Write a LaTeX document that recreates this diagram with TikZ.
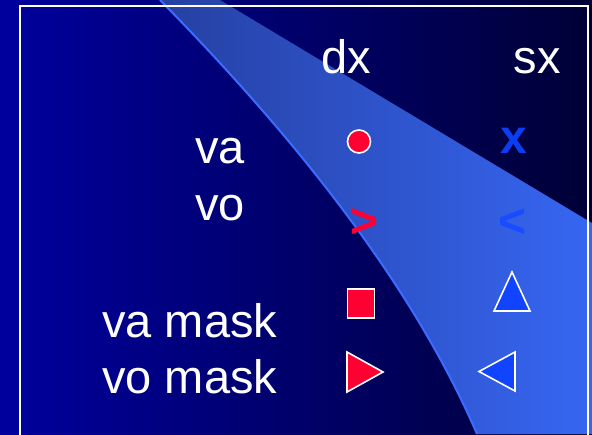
\documentclass[tikz,border=0pt]{standalone}
\usepackage{fontspec}
\setmainfont{Liberation Sans}
\definecolor{bgL}{HTML}{00009E}
\definecolor{bgR}{HTML}{000036}
\definecolor{bandL}{HTML}{2640A2}
\definecolor{bandR}{HTML}{3666F2}
\definecolor{edgeblue}{HTML}{3A6CFF}
\definecolor{mred}{HTML}{FF0033}
\definecolor{mblue}{HTML}{1144FF}
\definecolor{gblue}{HTML}{0D3DF0}
\definecolor{ltblue}{HTML}{1A4CFF}
\begin{document}
\begin{tikzpicture}[x=1pt,y=-1pt,
  lbl/.style={text=white,font=\fontsize{47}{50}\selectfont,inner sep=0pt,anchor=base west},
  glyph/.style={font=\bfseries\fontsize{48}{50}\selectfont,inner sep=0pt,anchor=base west},
  mk/.style={draw=white,line width=1.6pt,line join=miter}]
\useasboundingbox (0,0) rectangle (592,434);
\clip (0,0) rectangle (592,434);
% background
\shade[left color=bgL,right color=bgR] (0,0) rectangle (592,434);
% light band
\shade[left color=bandL,right color=bandR]
  (160,0) .. controls (302.2,144.7) and (414.3,289.3) .. (477,434)
  -- (592,434) -- (592,223) -- (220,0) -- cycle;
\draw[edgeblue,line width=2pt]
  (160,0) .. controls (302.2,144.7) and (414.3,289.3) .. (477,434);
% frame
\draw[white,line width=2.5pt] (20,440) -- (20,6) -- (588,6) -- (588,440);
% labels
\node[lbl] (dx) at (321.5,73) {dx};
\node[lbl] (sx) at (513.5,73) {sx};
\node[lbl] (va) at (195,163) {va};
\node[lbl] (vo) at (195,220) {vo};
\node[lbl] (vam) at (102,337) {va mask};
\node[lbl] (vom) at (102,393) {vo mask};
% markers
\node[circle,fill=mred,mk,minimum size=23pt,inner sep=0pt] (dot) at (359,141.5) {};
\node[glyph,text=gblue] (x) at (500.5,153) {x};
\node[glyph,text=mred] (gt) at (350.5,237) {>};
\node[glyph,text=ltblue] (lt) at (498.6,237) {<};
\node[rectangle,fill=mred,mk,minimum width=27pt,minimum height=29.5pt,inner sep=0pt] (sq) at (361,303.5) {};
\filldraw[fill=mblue,mk] (512,272) -- (530,311) -- (494,311) -- cycle;
\filldraw[fill=mred,mk] (347,352) -- (383,372) -- (347,392) -- cycle;
\filldraw[fill=mblue,mk] (515,352) -- (479,371.5) -- (515,391) -- cycle;
\end{tikzpicture}
\end{document}
